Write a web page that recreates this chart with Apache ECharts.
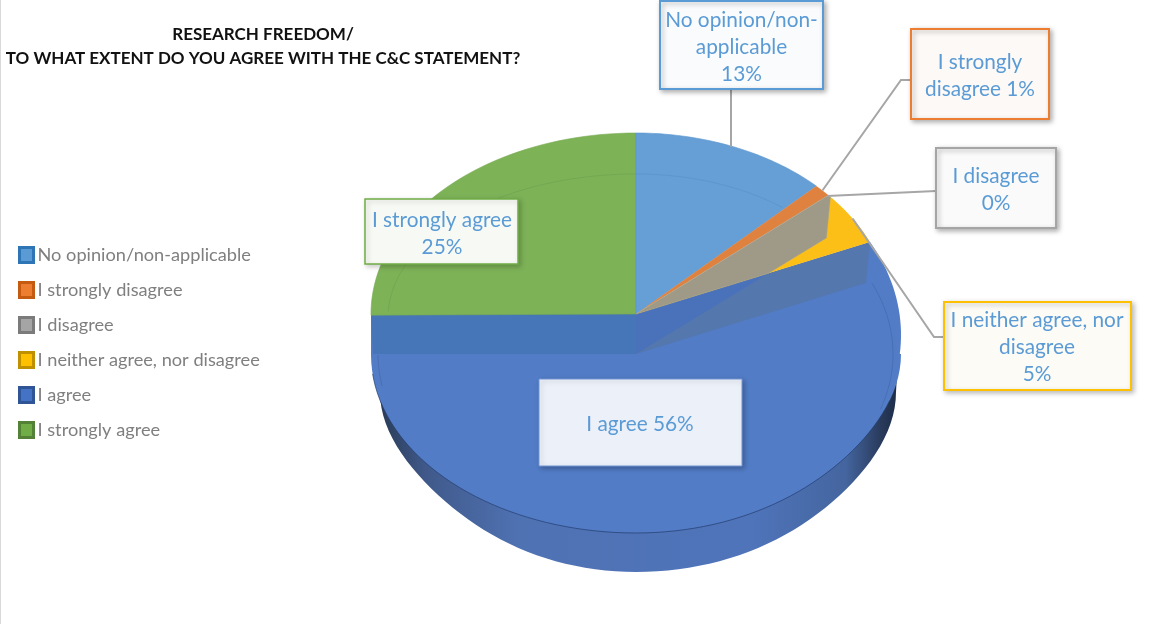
<!DOCTYPE html>
<html><head><meta charset="utf-8">
<style>html,body{margin:0;padding:0;background:#fff}#c{width:1165px;height:624px}</style>
<script src="https://cdn.jsdelivr.net/npm/echarts@6/dist/echarts.min.js"></script>
</head><body><div id="c"></div>
<script>
const categories = ['No opinion/non-applicable','I strongly disagree','I disagree','I neither agree, nor disagree','I agree','I strongly agree'];
const values = [12.5,1.1,0.2,4.7,56.4,25.1];
const titleLines = ['RESEARCH FREEDOM/','TO WHAT EXTENT DO YOU AGREE WITH THE C&C STATEMENT?'];
const labelTexts = [['No opinion/non-','applicable'],['I strongly','disagree'],['I disagree'],['I neither agree, nor','disagree'],['I agree'],['I strongly agree']];

const legendFill = ['#5b9bd5','#ed7d31','#a5a5a5','#ffc000','#4472c4','#70ad47'];
const legendEdge = ['#2e75b6','#c55a11','#7b7b7b','#bf9000','#2f5597','#538135'];
const faceFill  = ['#659fd6','#e0823f','#9f9a87','#fcbf17','#527cc6','#7db257'];

const total = values.reduce((a,b)=>a+b,0);
const cum = [0]; values.forEach(v=>cum.push(cum[cum.length-1]+v/total*360));

const CX=636, CY=314, DEPTH=40;
const rim=(t,a=255,b=181,cy=CY)=>{const r=t*Math.PI/180;return [CX+a*Math.sin(r),cy-b*Math.cos(r)];};
const arc=(t0,t1,a=255,b=181,cy=CY)=>{const p=[];for(let i=0;i<=48;i++)p.push(rim(t0+(t1-t0)*i/48,a,b,cy));return p;};
const warped=(t0,t1,aR,kR,aL,kL,b,cy)=>{const p=[];for(let i=0;i<=72;i++){const t=t0+(t1-t0)*i/72,s=Math.abs(Math.sin(t*Math.PI/180));
  const a=t<=180?aR+kR*Math.pow(s,6):aL+kL*Math.pow(s,6);p.push(rim(t,a,b,cy));}return p;};
const faceEdge=(t0,t1)=>warped(t0,t1,253,12,265,0,179,CY+DEPTH);
const wall=t=>{const p=rim(t);return [p[0]-4,p[1]+DEPTH+1];};
const cross=(p1,p2,p3,p4)=>{const d=(p1[0]-p2[0])*(p3[1]-p4[1])-(p1[1]-p2[1])*(p3[0]-p4[0]);
  const u=((p1[0]-p3[0])*(p3[1]-p4[1])-(p1[1]-p3[1])*(p3[0]-p4[0]))/d;
  return [p1[0]+u*(p2[0]-p1[0]),p1[1]+u*(p2[1]-p1[1])];};
const poly=(points,fill,extra)=>({type:'polygon',shape:{points},style:Object.assign({fill},extra||{})});
const line=(points,stroke,w)=>({type:'polyline',shape:{points},style:{stroke,fill:null,lineWidth:w||1}});
const C=[CX,CY], C2=[CX,CY+DEPTH];

const painters = [
  i=>[poly([C].concat(arc(cum[0],cum[1])),faceFill[0],{stroke:'#5b94cc',lineWidth:.6}),
      line(arc(cum[0],cum[1]-5,228,144,CY+4),'rgba(70,120,180,.25)')],
  i=>[poly([C].concat(arc(cum[1],cum[2])),faceFill[1])],
  i=>{const g=cum[3],y=cum[4],X=cross(C2,wall(g),C,rim(y));
      return [poly([C].concat(arc(cum[2],g),[wall(g),X]),faceFill[2],{stroke:'#a8a48f',lineWidth:.5})];},
  i=>[poly([C].concat(arc(cum[3],cum[4])),faceFill[3])],
  i=>{const s=cum[4],e=cum[5],Ps=rim(s),Ws=wall(s),g=cum[3],X=cross(C2,wall(g),C,Ps);
      const band=[[CX+262,CY+DEPTH+4]].concat(warped(90,270,244,16,235,21,180,CY+78),[[CX-263,CY+DEPTH+4]]);
      const bevel=[];for(let k=0;k<=20;k++){const y=Ps[1]+(CY+DEPTH-Ps[1])*k/20;const dy=(y-(CY+21))/198;bevel.push([CX+265*Math.sqrt(Math.max(0,1-dy*dy)),y]);}
      const lower=faceEdge(90,e);
      const grad={type:'linear',x:0,y:0,x2:1,y2:0,colorStops:[{offset:0,color:'#26374f'},{offset:.1,color:'#40598a'},{offset:.28,color:'#4f72b3'},{offset:.72,color:'#4f74ba'},{offset:.9,color:'#44659f'},{offset:.97,color:'#28395a'},{offset:1,color:'#1c2c48'}]};
      return [poly(band,grad),
        poly([C,Ps].concat(bevel,lower,[[CX-265,CY]]),faceFill[4]),
        line(faceEdge(105,e-6),'rgba(35,60,110,.7)'),
        poly([[CX-265,CY],C,C2,[CX-263,CY+DEPTH]],'#4676b8'),
        poly([C,Ps,Ws,C2],'#5477ae'),
        poly([C,X,C2],'#4a72bb'),
        line(arc(s,108,257,179,CY+DEPTH),'rgba(60,95,160,.45)'),
        line(arc(e-10,e,258,179,CY+DEPTH),'rgba(60,95,160,.45)')];},
  i=>[poly([C].concat(arc(cum[5],cum[6],265,181)),faceFill[5],{stroke:'#76aa50',lineWidth:.6}),
      line(arc(cum[5]+3,cum[6],248,144,CY+4),'rgba(80,130,70,.22)')]
];
const drawOrder=[4,5,0,1,3,2];
const series=drawOrder.map((idx,n)=>({
  type:'custom',name:categories[idx],coordinateSystem:'none',silent:true,z:2+n,
  itemStyle:{color:legendFill[idx]},data:[[values[idx]]],
  renderItem:()=>({type:'group',children:painters[idx](idx)})
}));

const mid=i=>(cum[i]+cum[i+1])/2;
const boxes=[
 {x:660,y:1,w:163,h:88,edge:'#5b9bd5',fill:'#f9fbfd',tx:741.5,ty:47,lw:2,sh:.3},
 {x:911,y:29,w:138,h:90,edge:'#ed7d31',fill:'#fdf9f6',tx:980,ty:76,lw:2,sh:.3},
 {x:936,y:148,w:120,h:80,edge:'#a5a5a5',fill:'#fafafa',tx:996,ty:190,lw:2,sh:.3},
 {x:944,y:302,w:187,h:88,edge:'#ffc000',fill:'#fcfbf6',tx:1037,ty:347,lw:2,sh:.25},
 {x:539,y:379,w:203,h:87,edge:'#7396d6',fill:'#ebf0f9',tx:640,ty:424,lw:1,sh:.25},
 {x:365,y:199,w:153,h:65,edge:'#70ad47',fill:'#f7faf4',tx:442,ty:234,lw:1.5,sh:.2}
];
const leaders=[
 [[731,89],[731,rim(mid(0))[1]]],
 [[911,80],[901,80],rim(mid(1))],
 [[936,191],rim(mid(2),252)],
 [[944,337],[934,337],rim(mid(3))]
];
const labelString=i=>{const pct=Math.round(values[i])+'%';const l=labelTexts[i];
  if(l.length===1&&i===2)return l[0]+'\n'+pct;
  if(i===1)return l[0]+'\n'+l[1]+' '+pct;
  if(i===4)return l[0]+' '+pct;
  return l.join('\n')+'\n'+pct;};

const graphic=[];
graphic.push({type:'line',shape:{x1:.5,y1:0,x2:.5,y2:624},style:{stroke:'#d9d9d9',lineWidth:1},z:1});
titleLines.forEach((t,i)=>graphic.push({type:'text',z:100,style:{text:t,x:263,y:35+i*24,textAlign:'center',textVerticalAlign:'middle',fill:'#111',font:'bold 17px Lato'}}));
leaders.forEach(p=>graphic.push({type:'polyline',z:50,shape:{points:p},style:{stroke:'#a6a6a6',fill:null,lineWidth:2}}));
boxes.forEach((b,i)=>{
  graphic.push({type:'rect',z:60,shape:{x:b.x,y:b.y,width:b.w,height:b.h},style:{fill:b.fill,stroke:b.edge,lineWidth:b.lw,shadowBlur:5,shadowOffsetX:2,shadowOffsetY:2,shadowColor:'rgba(0,0,0,'+b.sh+')'}});
  graphic.push({type:'text',z:61,style:{text:labelString(i),x:b.tx,y:b.ty,textAlign:'center',textVerticalAlign:'middle',fill:'#5b9bd5',font:'20.8px Lato',lineHeight:27}});
});

const chart=echarts.init(document.getElementById('c'),null,{renderer:'canvas'});
chart.setOption({
  animation:false,backgroundColor:'#fff',
  legend:{orient:'vertical',left:18,top:246,padding:0,itemWidth:14,itemHeight:15,itemGap:17,icon:'rect',
    data:categories.map((n,i)=>({name:n,itemStyle:{color:legendFill[i],borderColor:legendEdge[i],borderWidth:3}})),
    textStyle:{color:'#7f7f7f',fontFamily:'Lato',fontSize:18.2,padding:[0,0,0,-1]}},
  series,graphic
});
</script></body></html>
